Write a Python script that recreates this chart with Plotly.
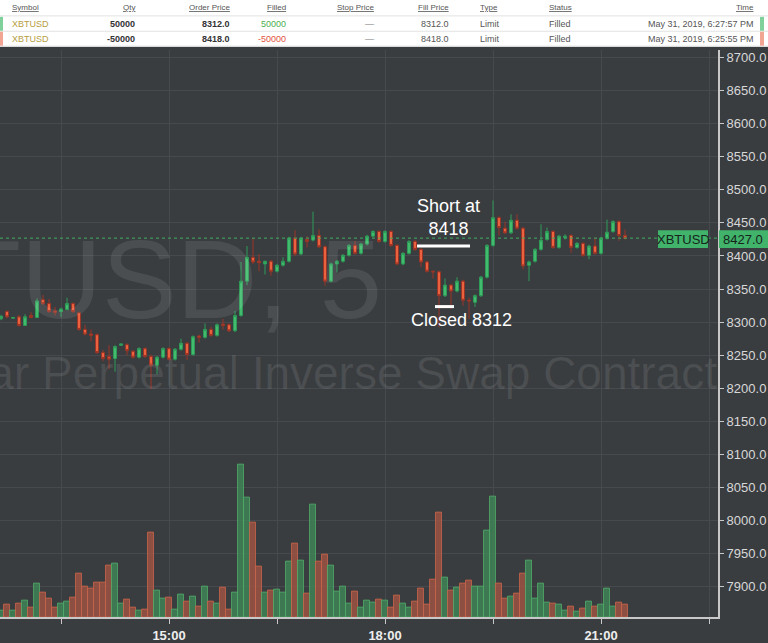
import plotly.graph_objects as go
import pandas as pd

# ---------------- data ----------------
times = pd.date_range("2019-05-31 12:40", periods=105, freq="5min")

opens = [8305, 8316, 8306, 8308, 8295, 8310, 8307, 8334, 8328, 8317,
         8316, 8319, 8328, 8314, 8289, 8282, 8281, 8254, 8248, 8245,
         8265, 8266, 8256, 8247, 8260, 8248, 8235, 8247, 8260, 8244,
         8259, 8268, 8251, 8279, 8277, 8289, 8280, 8297, 8296, 8287,
         8310, 8362, 8398, 8392, 8388, 8392, 8377, 8386, 8392, 8427,
         8403, 8425, 8424, 8431, 8414, 8362, 8388, 8392, 8401, 8416,
         8404, 8418, 8430, 8437, 8422, 8437, 8416, 8388, 8404, 8422,
         8410, 8391, 8377, 8376, 8340, 8356, 8347, 8362, 8333, 8330,
         8340, 8368, 8416, 8458, 8442, 8435, 8454, 8442, 8386, 8392,
         8410, 8425, 8437, 8413, 8428, 8431, 8413, 8419, 8401, 8415,
         8404, 8427, 8437, 8452, 8431]
highs = [8311, 8318, 8308, 8311, 8312, 8315, 8336, 8341, 8335, 8323,
         8322, 8337, 8330, 8316, 8296, 8289, 8283, 8258, 8265, 8265,
         8268, 8268, 8258, 8262, 8262, 8251, 8249, 8262, 8262, 8261,
         8275, 8270, 8280, 8281, 8298, 8293, 8298, 8305, 8298, 8317,
         8391, 8415, 8427, 8403, 8393, 8394, 8388, 8398, 8429, 8439,
         8429, 8430, 8467, 8440, 8416, 8390, 8394, 8403, 8418, 8423,
         8420, 8432, 8439, 8439, 8439, 8439, 8418, 8406, 8424, 8424,
         8412, 8393, 8378, 8378, 8366, 8358, 8368, 8364, 8337, 8342,
         8370, 8418, 8484, 8460, 8452, 8463, 8463, 8444, 8393, 8412,
         8448, 8443, 8439, 8432, 8433, 8433, 8421, 8421, 8417, 8428,
         8429, 8455, 8454, 8454, 8440]
lows = [8303, 8306, 8305, 8293, 8294, 8306, 8306, 8326, 8314, 8310,
        8308, 8318, 8314, 8287, 8280, 8271, 8252, 8241, 8229, 8225,
        8264, 8250, 8245, 8245, 8246, 8199, 8221, 8245, 8242, 8242,
        8257, 8243, 8249, 8269, 8275, 8278, 8278, 8289, 8285, 8285,
        8308, 8356, 8388, 8377, 8372, 8370, 8375, 8384, 8390, 8400,
        8401, 8413, 8422, 8412, 8355, 8360, 8375, 8390, 8399, 8402,
        8402, 8416, 8428, 8420, 8420, 8414, 8386, 8386, 8402, 8408,
        8383, 8375, 8366, 8292, 8338, 8320, 8345, 8325, 8305, 8323,
        8338, 8366, 8414, 8431, 8433, 8433, 8440, 8380, 8362, 8390,
        8408, 8423, 8411, 8411, 8425, 8405, 8411, 8399, 8395, 8402,
        8402, 8425, 8435, 8423, 8425]
closes = [8309, 8308, 8307, 8295, 8308, 8307, 8332, 8328, 8316, 8315,
          8320, 8328, 8316, 8289, 8282, 8280, 8254, 8245, 8244, 8263,
          8267, 8257, 8247, 8260, 8248, 8235, 8247, 8260, 8244, 8259,
          8268, 8251, 8278, 8277, 8289, 8280, 8296, 8295, 8287, 8310,
          8362, 8398, 8391, 8390, 8392, 8377, 8386, 8392, 8427, 8403,
          8427, 8422, 8431, 8414, 8362, 8388, 8392, 8401, 8416, 8404,
          8418, 8430, 8437, 8422, 8437, 8416, 8388, 8404, 8422, 8410,
          8391, 8377, 8376, 8340, 8356, 8347, 8362, 8333, 8332, 8340,
          8368, 8416, 8458, 8443, 8435, 8454, 8442, 8385, 8391, 8410,
          8424, 8437, 8413, 8430, 8430, 8413, 8419, 8401, 8415, 8404,
          8427, 8436, 8452, 8431, 8427]
volumes = [20, 37, 20, 40, 50, 29, 100, 73, 55, 29,
           40, 47, 60, 133, 93, 87, 103, 103, 157, 163,
           40, 53, 29, 20, 23, 257, 79, 56, 60, 23,
           69, 47, 63, 33, 93, 47, 40, 90, 23, 73,
           460, 360, 287, 153, 73, 80, 83, 73, 167, 223,
           170, 70, 340, 167, 190, 157, 77, 93, 40, 77,
           30, 50, 43, 53, 50, 29, 65, 40, 29, 47,
           87, 37, 113, 317, 120, 80, 90, 100, 110, 93,
           93, 263, 363, 100, 57, 63, 70, 133, 170, 57,
           100, 43, 40, 37, 20, 33, 17, 25, 47, 33,
           37, 87, 33, 43, 37]

price_ticks = list(range(7900, 8701, 50))
time_ticks = ["2019-05-31 13:30", "2019-05-31 15:00", "2019-05-31 16:30",
              "2019-05-31 18:00", "2019-05-31 19:30", "2019-05-31 21:00",
              "2019-05-31 22:30"]
time_labels = ["", "15:00", "", "18:00", "", "21:00", ""]

symbol = "XBTUSD"
last_price = 8427.0
watermark_1 = "XBTUSD, 5"
watermark_2 = "Bitcoin / US Dollar Perpetual Inverse Swap Contract"

table_header = ["Symbol", "Qty", "Order Price", "Filled", "Stop Price",
                "Fill Price", "Type", "Status", "Time"]
table_row1 = ["XBTUSD", "50000", "8312.0", "50000", "\u2014", "8312.0",
              "Limit", "Filled", "May 31, 2019, 6:27:57 PM"]
table_row2 = ["XBTUSD", "-50000", "8418.0", "-50000", "\u2014", "8418.0",
              "Limit", "Filled", "May 31, 2019, 6:25:55 PM"]

short_label = "Short at<br>8418"
closed_label = "Closed 8312"

# ---------------- figure ----------------
W, H = 768, 643
BG = "#3a3d40"
GREEN = "#44bd6f"
RED = "#ee6440"
FONT = "Liberation Sans, Arial, sans-serif"


def fx(px):
    return px / W


def fy(py):
    return 1 - py / H


fig = go.Figure()

# watermark (behind candles)
fig.add_trace(go.Scatter(
    x=[pd.Timestamp("2019-05-31 17:57:30")], y=[8348], mode="text",
    text=[watermark_1], textposition="middle left",
    textfont=dict(family=FONT, size=112, color="rgba(255,255,255,0.09)"),
    hoverinfo="skip", showlegend=False))
fig.add_trace(go.Scatter(
    x=[pd.Timestamp("2019-05-31 22:36:40")], y=[8216], mode="text",
    text=[watermark_2], textposition="middle left",
    textfont=dict(family=FONT, size=46, color="rgba(255,255,255,0.09)"),
    hoverinfo="skip", showlegend=False))

fig.add_trace(go.Candlestick(
    x=times, open=opens, high=highs, low=lows, close=closes,
    increasing=dict(line=dict(color="#2f9a58", width=1), fillcolor=GREEN),
    decreasing=dict(line=dict(color="#9b3526", width=1), fillcolor=RED),
    whiskerwidth=0, showlegend=False, hoverinfo="skip"))

vol_colors = ["rgba(64,140,90,0.75)" if c >= o else "rgba(170,85,65,0.75)"
              for o, c in zip(opens, closes)]
vol_lines = ["rgba(80,170,105,0.8)" if c >= o else "rgba(200,100,75,0.8)"
             for o, c in zip(opens, closes)]
fig.add_trace(go.Bar(
    x=times, y=volumes, yaxis="y2", width=300000 * 0.97,
    marker=dict(color=vol_colors, line=dict(color=vol_lines, width=1)),
    showlegend=False, hoverinfo="skip"))

plot_top, plot_bottom, plot_right = 50, 622, 718

fig.update_layout(
    width=W, height=H, margin=dict(l=0, r=0, t=0, b=0),
    paper_bgcolor=BG, plot_bgcolor=BG,
    font=dict(family=FONT, color="#d5d5d5"),
    xaxis=dict(
        domain=[0, fx(plot_right)], type="date",
        range=["2019-05-31 12:39:09", "2019-05-31 22:37:30"],
        rangeslider=dict(visible=False),
        tickvals=time_ticks, ticktext=time_labels,
        ticks="outside", ticklen=5, tickcolor="#c8c8c8", tickwidth=1,
        showline=True, linecolor="#c8c8c8", linewidth=2,
        showgrid=True, gridcolor="#46494d", gridwidth=1, zeroline=False,
        tickfont=dict(size=13, color="#eeeeee", family=FONT, weight="bold"),
    ),
    yaxis=dict(
        domain=[fy(plot_bottom), fy(plot_top)], side="right",
        range=[7854, 8712], tickvals=price_ticks, tickformat=".1f",
        ticks="outside", ticklen=4, tickcolor="#c8c8c8",
        showline=True, linecolor="#c8c8c8", linewidth=2, mirror=False,
        showgrid=True, gridcolor="#46494d", gridwidth=1, zeroline=False,
        tickfont=dict(size=13, color="#d8d8d8", family=FONT),
    ),
    yaxis2=dict(overlaying="y", range=[0, 1716], visible=False,
                domain=[fy(plot_bottom), fy(plot_top)]),
    bargap=0,
)

shapes = []
annotations = []


def note(x, y, text, size, color, xanchor="center", bold=False):
    annotations.append(dict(
        xref="paper", yref="paper", x=fx(x), y=fy(y),
        xanchor=xanchor, yanchor="middle", showarrow=False,
        text=f"<b>{text}</b>" if bold else text,
        font=dict(size=size, color=color, family=FONT)))


def rect(x0, x1, y0, y1, color):
    shapes.append(dict(type="rect", xref="paper", yref="paper",
                       x0=fx(x0), x1=fx(x1), y0=fy(y1), y1=fy(y0),
                       fillcolor=color, line=dict(width=0), layer="above"))


# last price dotted line
shapes.append(dict(type="line", xref="x domain", yref="y", x0=0, x1=1,
                   y0=last_price, y1=last_price,
                   line=dict(color="#3fae64", width=1, dash="dot")))
# price tag
rect(658, 708, 232, 250, "#41b36b")
rect(719, 768, 232, 250, "#41b36b")
note(683, 241.5, symbol, 13, "#16241b")
note(743, 241.5, f"{last_price:.1f}", 13, "#16241b")

# trade notes
shapes.append(dict(type="line", xref="paper", yref="paper",
                   x0=fx(417), x1=fx(470), y0=fy(248), y1=fy(248),
                   line=dict(color="white", width=3), layer="above"))
shapes.append(dict(type="line", xref="paper", yref="paper",
                   x0=fx(435), x1=fx(454), y0=fy(309), y1=fy(309),
                   line=dict(color="white", width=3), layer="above"))
note(448, 219, short_label, 18, "white")
note(461, 323, closed_label, 18, "white")

# order table on top
rect(0, 768, 0, 47, "white")
for yy in (16, 31.5, 46.5):
    shapes.append(dict(type="line", xref="paper", yref="paper", x0=0, x1=1,
                       y0=fy(yy), y1=fy(yy),
                       line=dict(color="#e2e2e2", width=1), layer="above"))
rect(0, 3, 17, 31, "#7fd09a")
rect(0, 3, 32, 46, "#f2a592")
rect(760, 764, 17, 31, "#7fd09a")
rect(760, 764, 32, 46, "#f2a592")

col_x = [10, 137, 232, 288, 376, 451, 478, 547, 756]
col_anchor = ["left", "right", "right", "right", "right", "right", "left",
              "left", "right"]
for j, name in enumerate(table_header):
    note(col_x[j], 8,
         f'<span style="text-decoration:underline">{name}</span>',
         8, "#555555", xanchor=col_anchor[j])

row_styles = [
    ("#b59d3e", False), ("#333333", True), ("#333333", True), (None, False),
    ("#777777", False), ("#555555", False), ("#555555", False),
    ("#555555", False), ("#555555", False)]
for row, yy, fcol in ((table_row1, 24, "#4caf50"), (table_row2, 39, "#e2533c")):
    for j, val in enumerate(row):
        color, bold = row_styles[j]
        note(col_x[j], yy, val, 9, color or fcol, xanchor=col_anchor[j],
             bold=bold)

fig.update_layout(shapes=shapes, annotations=annotations)

fig.write_html(
    "out.html",
    config={"displayModeBar": False},
    post_script="document.body.style.margin='0';"
                "document.body.style.overflow='hidden';")
